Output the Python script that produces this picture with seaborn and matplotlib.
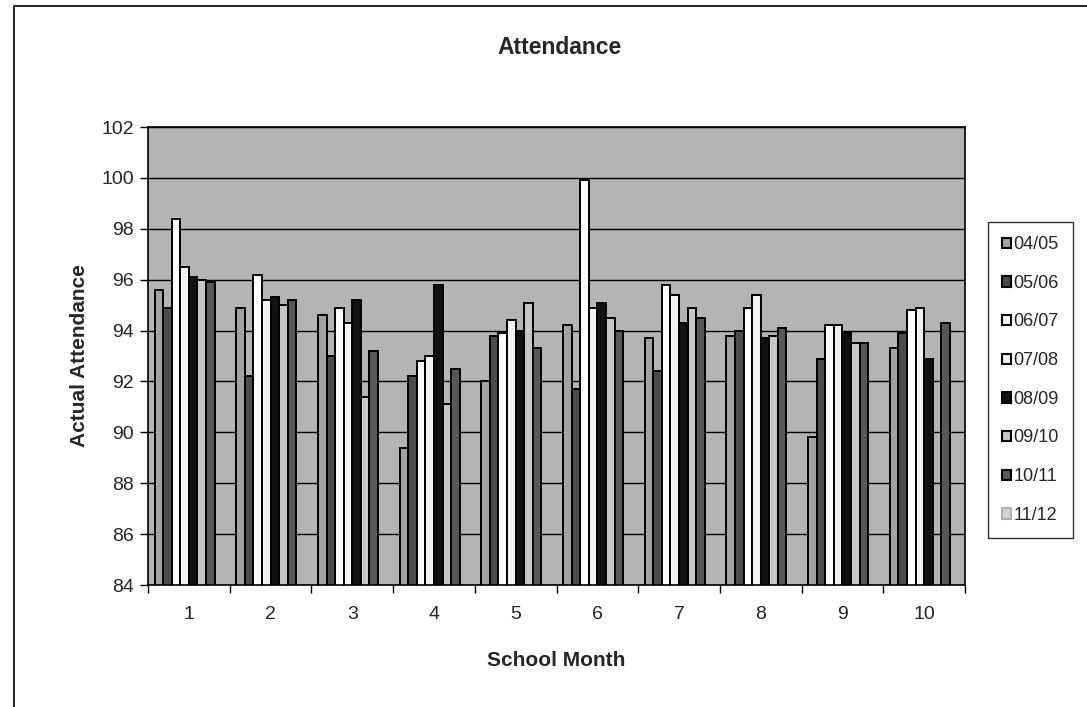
import numpy as np
import pandas as pd
import matplotlib
matplotlib.use("Agg")
import matplotlib.pyplot as plt
from matplotlib.patches import Patch, Rectangle
import seaborn as sns

# Data
months = ["1", "2", "3", "4", "5", "6", "7", "8", "9", "10"]
seasons = ["04/05", "05/06", "06/07", "07/08", "08/09", "09/10", "10/11", "11/12"]
att_0405 = [95.6, 94.9, 94.6, 89.4, 92.0, 94.2, 93.7, 93.8, 89.8, 93.3]
att_0506 = [94.9, 92.2, 93.0, 92.2, 93.8, 91.7, 92.4, 94.0, 92.9, 93.9]
att_0607 = [98.4, 96.2, 94.9, 92.8, 93.9, 99.9, 95.8, 94.9, 94.2, 94.8]
att_0708 = [96.5, 95.2, 94.3, 93.0, 94.4, 94.9, 95.4, 95.4, 94.2, 94.9]
att_0809 = [96.1, 95.3, 95.2, 95.8, 94.0, 95.1, 94.3, 93.7, 93.9, 92.9]
att_0910 = [96.0, 95.0, 91.4, 91.1, 95.1, 94.5, 94.9, 93.8, 93.5, np.nan]
att_1011 = [95.9, 95.2, 93.2, 92.5, 93.3, 94.0, 94.5, 94.1, 93.5, 94.3]
att_1112 = [np.nan] * 10

bar_colors = ["#a2a2a2", "#4c4c4c", "#ffffff", "#f2f2f2",
              "#111111", "#c6c6c6", "#585858", "#d4d4d4"]

series = [att_0405, att_0506, att_0607, att_0708, att_0809, att_0910, att_1011, att_1112]
rows = []
for s, vals in zip(seasons, series):
    for m, v in zip(months, vals):
        rows.append({"School Month": m, "Season": s, "Attendance": v})
df = pd.DataFrame(rows)

sns.set_style("white")
plt.rcParams["font.family"] = ["Liberation Sans", "DejaVu Sans"]

fig = plt.figure(figsize=(10.87, 7.07), dpi=100)
ax = fig.add_axes([148 / 1087, 1 - 585 / 707, (965 - 148) / 1087, (585 - 127) / 707])
ax.set_facecolor("#b4b4b4")

sns.barplot(data=df.dropna(), x="School Month", y="Attendance", hue="Season",
            order=months, hue_order=seasons, palette=dict(zip(seasons, bar_colors)),
            width=0.84, edgecolor="black", linewidth=1.4, legend=False, ax=ax)

ax.set_ylim(84, 102)
ax.set_yticks(np.arange(84, 103, 2))
ax.set_xlim(-0.5, 9.5)
ax.yaxis.grid(True, color="black", linewidth=1)
ax.set_axisbelow(True)

ax.set_xticks(np.arange(10))
ax.set_xticklabels(months)
ax.set_xticks(np.arange(-0.5, 10, 1), minor=True)
ax.tick_params(axis="x", which="major", length=0, labelsize=14, pad=15)
ax.tick_params(axis="x", which="minor", length=6, width=1, direction="out", color="black")
ax.tick_params(axis="y", length=6, width=1, direction="out", color="black", labelsize=14, pad=4)
ax.xaxis.set_ticks_position("bottom")
ax.yaxis.set_ticks_position("left")
for sp in ax.spines.values():
    sp.set_color("black")
    sp.set_linewidth(1.2)

ax.set_xlabel("School Month", fontsize=15, fontweight="bold", labelpad=20)
ax.set_ylabel("Actual Attendance", fontsize=15, fontweight="bold", labelpad=9)
fig.text(560 / 1087, 1 - 48 / 707, "Attendance", ha="center", va="center",
         fontsize=16.5, fontweight="bold")

handles = []
for s, c in zip(seasons, bar_colors):
    ec = "#b0b0b0" if s == "11/12" else "black"
    handles.append(Patch(facecolor=c, edgecolor=ec, linewidth=1.5, label=s))
leg = fig.legend(handles=handles, loc="center",
                 bbox_to_anchor=((986 + 1075) / 2 / 1087, 1 - (225 + 535) / 2 / 707),
                 fontsize=13, frameon=True, fancybox=False, shadow=False,
                 handlelength=0.5, handleheight=0.5, handletextpad=0.12,
                 labelspacing=1.2, borderpad=0.8, borderaxespad=0)
leg.get_frame().set_edgecolor("black")
leg.get_frame().set_linewidth(1.0)

# outer chart border (only top and left edges visible in the scan)
fig.patches.append(Rectangle((14 / 1087, -0.1), 1.2, 1 - 6 / 707 + 0.1, fill=False,
                             edgecolor="black", linewidth=1.2, transform=fig.transFigure))

fig.savefig("out.png", dpi=100, facecolor="white")
